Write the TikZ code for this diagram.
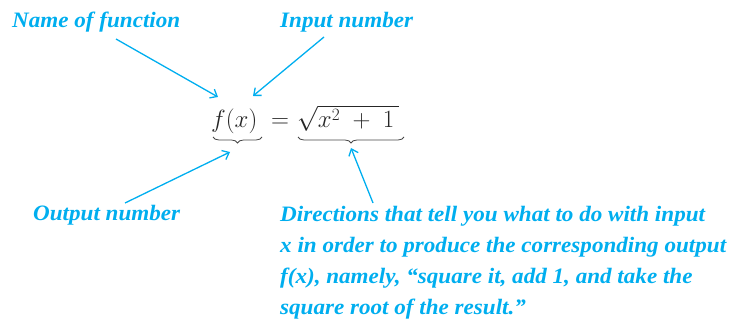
\documentclass[tikz,border=0pt]{standalone}
\usepackage{fontspec}
\setmainfont{Liberation Serif}
\newfontfamily\labfont[FakeStretch=1.05]{Liberation Serif}
\usetikzlibrary{arrows.meta,decorations.pathreplacing}
\definecolor{labcyan}{RGB}{0,174,239}
\definecolor{bracegray}{RGB}{70,70,70}
\tikzset{
  lab/.style={text=labcyan, font=\labfont\fontsize{22}{31}\selectfont\bfseries\itshape, inner sep=0pt},
  formula/.style={font=\fontsize{26}{30}\selectfont, inner sep=0pt, text=black!85},
  pointer/.style={draw=labcyan, line width=1.3pt, -{Straight Barb[length=6pt,width=10pt]}},
  brc/.style={draw=bracegray, line width=0.8pt, decorate, decoration={brace, mirror, amplitude=6pt}}
}
\begin{document}
\begin{tikzpicture}[x=1pt,y=-1pt]
\useasboundingbox (0,0) rectangle (732,321);
% labels
\node[lab, anchor=base west] (name) at (12,28) {Name of function};
\node[lab, anchor=base west] (input) at (280,28) {Input number};
\node[lab, anchor=base west] (output) at (33,220) {Output number};
\node[lab, anchor=north west, align=left] (dir) at (280,206)
  {Directions that tell you what to do with input\\
   x in order to produce the corresponding output\\
   f(x), namely, “square it, add 1, and take the\\
   square root of the result.”};
% formula
\node[formula, anchor=base west] (fx) at (211,128) {$f(x)$};
\node[formula, anchor=base] (eq) at (280,128) {$=$};
\node[formula, anchor=base west] (sq) at (297,128) {$\sqrt{x^2\;+\;1\,}$};
% braces
\coordinate (b1l) at (213,137);
\coordinate (b1r) at (262,137);
\coordinate (b2l) at (298,137);
\coordinate (b2r) at (404,137);
\draw[brc] (b1l) -- (b1r);
\draw[brc] (b2l) -- (b2r);
% arrow ends
\coordinate (s1) at (116,39);
\coordinate (t1) at (218,97);
\coordinate (s2) at (324,37);
\coordinate (t2) at (253,96);
\coordinate (s3) at (125,203);
\coordinate (t3) at (230,152);
\coordinate (s4) at (373,203);
\coordinate (t4) at (351,148);
\draw[pointer] (s1) -- (t1);
\draw[pointer] (s2) -- (t2);
\draw[pointer] (s3) -- (t3);
\draw[pointer] (s4) -- (t4);
\end{tikzpicture}
\end{document}
